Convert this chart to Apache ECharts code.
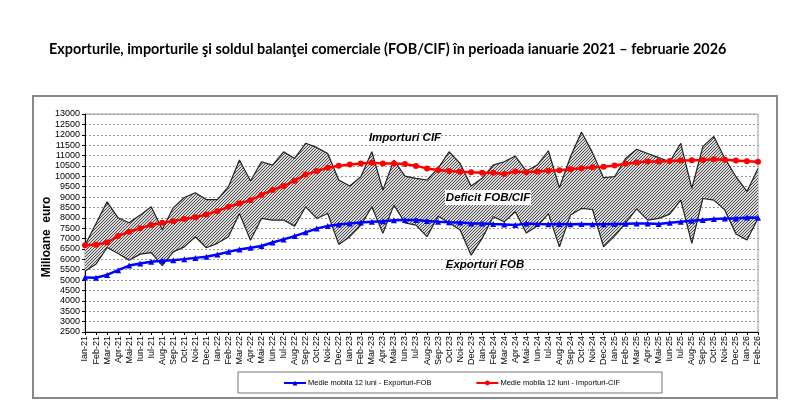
<!DOCTYPE html>
<html>
<head>
<meta charset="utf-8">
<script src="https://cdn.jsdelivr.net/npm/echarts@6/dist/echarts.min.js"></script>
<style>html,body{margin:0;padding:0;background:#fff;}#c{width:800px;height:400px;}</style>
</head>
<body>
<div id="c"></div>
<script>
const categories = ["Ian-21","Feb-21","Mar-21","Apr-21","Mai-21","Iun-21","Iul-21","Aug-21","Sep-21","Oct-21","Noi-21","Dec-21",
"Ian-22","Feb-22","Mar-22","Apr-22","Mai-22","Iun-22","Iul-22","Aug-22","Sep-22","Oct-22","Noi-22","Dec-22",
"Ian-23","Feb-23","Mar-23","Apr-23","Mai-23","Iun-23","Iul-23","Aug-23","Sep-23","Oct-23","Noi-23","Dec-23",
"Ian-24","Feb-24","Mar-24","Apr-24","Mai-24","Iun-24","Iul-24","Aug-24","Sep-24","Oct-24","Noi-24","Dec-24",
"Ian-25","Feb-25","Mar-25","Apr-25","Mai-25","Iun-25","Iul-25","Aug-25","Sep-25","Oct-25","Noi-25","Dec-25",
"Ian-26","Feb-26"];

const importsCIF = [6680,7730,8770,8000,7760,8130,8530,7440,8480,8980,9210,8880,
8880,9500,10780,9770,10700,10540,11180,10860,11590,11390,11100,9820,
9530,9980,11180,9340,10780,10010,9900,9820,10380,11180,10620,9530,
9900,10540,10700,10975,10250,10540,11230,9450,10940,12130,11140,9930,
9980,10860,11300,11100,10900,10700,11590,9420,11430,11920,10860,9980,
9270,10380];

const exportsFOB = [5430,5770,6570,6280,5960,6250,6320,5700,6360,6600,7090,6560,
6770,7090,8210,6920,7970,7890,7890,7600,8530,7970,8210,6720,
7090,7650,8530,7250,8610,7760,7650,7090,8080,7760,7410,6200,
7010,8050,7810,8290,7270,7600,8200,6600,8130,8450,8400,6600,
7120,7760,8430,7890,7970,8180,8850,6770,8930,8850,8370,7220,
6930,7970];

const maImports = [6680,6700,6810,7120,7330,7500,7650,7760,7840,7940,8030,8160,
8320,8530,8690,8850,9100,9340,9530,9790,10080,10250,10410,10510,
10570,10620,10650,10620,10620,10590,10500,10380,10300,10250,10220,10190,
10170,10170,10110,10230,10190,10230,10270,10290,10340,10390,10440,10460,
10520,10600,10660,10710,10710,10740,10760,10770,10790,10820,10800,10760,
10730,10700];

const maExports = [5130,5110,5250,5480,5700,5800,5880,5930,5960,6010,6070,6120,
6230,6360,6470,6560,6640,6810,6960,7120,7300,7480,7610,7680,
7730,7780,7810,7840,7880,7890,7890,7850,7810,7790,7780,7730,
7730,7700,7680,7650,7720,7700,7690,7700,7690,7700,7690,7690,
7700,7710,7730,7730,7700,7760,7810,7860,7890,7940,7970,7970,
8010,8000];

const deficitBand = importsCIF.map((v, i) => v - exportsFOB[i]);

// hatch pattern
const pc = document.createElement('canvas');
pc.width = 3; pc.height = 3;
const pctx = pc.getContext('2d');
const img = pctx.createImageData(3, 3);
for (let y = 0; y < 3; y++) for (let x = 0; x < 3; x++) {
  const k = (y * 3 + x) * 4;
  const dark = ((x + y) % 3) === 2;
  const c = dark ? 0x50 : 0xd8;
  img.data[k] = c; img.data[k+1] = c; img.data[k+2] = c; img.data[k+3] = 255;
}
pctx.putImageData(img, 0, 0);

const FONT = 'Liberation Sans, Arial, sans-serif';
const chart = echarts.init(document.getElementById('c'), null, {renderer: 'canvas'});
chart.setOption({
  animation: false,
  backgroundColor: '#fff',
  title: {
    text: 'Exporturile, importurile şi soldul balanţei comerciale (FOB/CIF) în perioada ianuarie 2021 – februarie 2026',
    left: 44, top: 37,
    textStyle: {fontFamily: 'Lato, sans-serif', fontWeight: 'bold', fontSize: 14.4, color: '#000'}
  },
  grid: {left: 85, right: 42, top: 114, bottom: 68, show: true, borderColor: '#999', borderWidth: 1, backgroundColor: '#fff'},
  legend: {
    data: ['Medie mobila 12 luni - Exporturi-FOB', 'Medie mobila 12 luni - Importuri-CIF'],
    left: 283, top: 379, itemWidth: 22, itemHeight: 6, itemGap: 44, padding: 0,
    textStyle: {fontFamily: FONT, fontSize: 7.5, color: '#000', padding: [0,0,0,-3]}
  },
  xAxis: {
    type: 'category', data: categories, boundaryGap: false,
    axisLine: {lineStyle: {color: '#000', width: 1}},
    axisTick: {show: true, length: 3, lineStyle: {color: '#000'}},
    axisLabel: {rotate: 90, interval: 0, fontSize: 9, fontFamily: FONT, color: '#000', margin: 4}
  },
  yAxis: {
    type: 'value', min: 2500, max: 13000, interval: 500,
    axisLine: {show: true, lineStyle: {color: '#000', width: 1}},
    axisTick: {show: true, length: 3, lineStyle: {color: '#000'}},
    axisLabel: {fontSize: 9, fontFamily: FONT, color: '#000', margin: 5, formatter: v => String(v)},
    splitLine: {lineStyle: {color: '#999', type: [2, 2], width: 1}}
  },
  graphic: [
    {type: 'rect', shape: {x: 33, y: 96, width: 744, height: 302}, style: {fill: 'none', stroke: '#888', lineWidth: 2}, z: -1},
    {type: 'rect', shape: {x: 238, y: 372, width: 424, height: 21}, style: {fill: '#fff', stroke: '#777', lineWidth: 1}, z: -1},
    {type: 'text', x: 47, y: 237, rotation: Math.PI / 2, style: {text: 'Milioane  euro', font: 'bold 12px Liberation Sans, Arial, sans-serif', fill: '#000', align: 'center', verticalAlign: 'middle'}, z: 10},
    {type: 'text', x: 405, y: 138, style: {text: 'Importuri CIF', font: 'italic bold 11.5px Liberation Sans, Arial, sans-serif', fill: '#000', align: 'center', verticalAlign: 'middle'}, z: 10},
    {type: 'rect', shape: {x: 445, y: 190, width: 86, height: 15}, style: {fill: '#fff'}, z: 9},
    {type: 'text', x: 488, y: 197.5, style: {text: 'Deficit FOB/CIF', font: 'italic bold 11.5px Liberation Sans, Arial, sans-serif', fill: '#000', align: 'center', verticalAlign: 'middle'}, z: 10},
    {type: 'text', x: 485, y: 265, style: {text: 'Exporturi FOB', font: 'italic bold 11.5px Liberation Sans, Arial, sans-serif', fill: '#000', align: 'center', verticalAlign: 'middle'}, z: 10}
  ],
  series: [
    {name: 'Exporturi FOB', type: 'line', stack: 'band', data: exportsFOB, symbol: 'none',
     lineStyle: {color: '#222', width: 1.2}, z: 2},
    {name: 'Importuri CIF', type: 'line', stack: 'band', data: deficitBand, symbol: 'none',
     lineStyle: {color: '#222', width: 1.2},
     areaStyle: {color: {image: pc, repeat: 'repeat'}, opacity: 1}, z: 2},
    {name: 'Medie mobila 12 luni - Exporturi-FOB', type: 'line', data: maExports, symbol: 'triangle', symbolSize: 6,
     itemStyle: {color: '#0000ff'}, lineStyle: {color: '#0000ff', width: 2.5}, z: 5},
    {name: 'Medie mobila 12 luni - Importuri-CIF', type: 'line', data: maImports, symbol: 'circle', symbolSize: 6,
     itemStyle: {color: '#ff0000'}, lineStyle: {color: '#ff0000', width: 2.5}, z: 5}
  ]
});
</script>
</body>
</html>
